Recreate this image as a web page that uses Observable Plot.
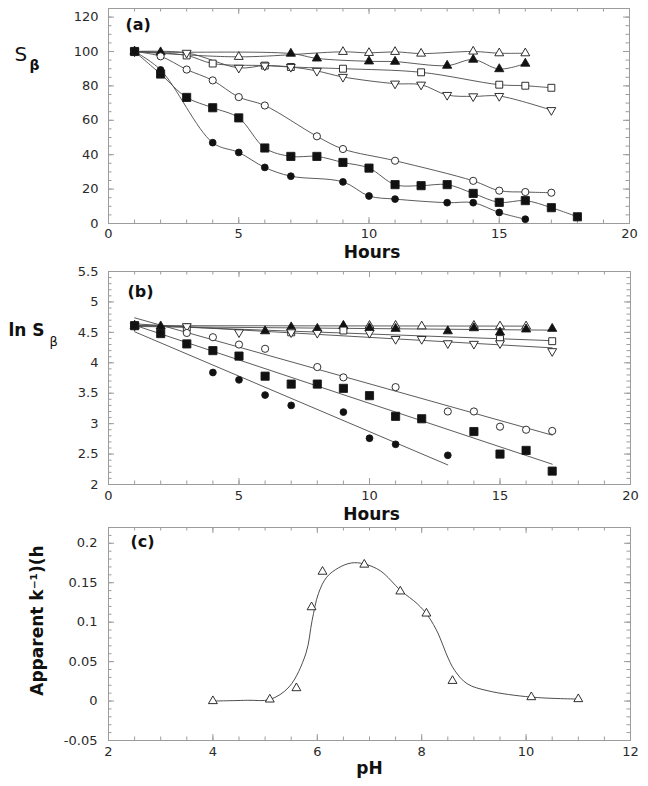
<!DOCTYPE html>
<html><head><meta charset="utf-8">
<script src="https://cdn.jsdelivr.net/npm/d3@7"></script>
<script src="https://cdn.jsdelivr.net/npm/@observablehq/plot@0.6"></script>
<style>
html,body{margin:0;padding:0;background:#fff;overflow:hidden}
#chart{width:648px;height:786px}
#chart svg{display:block}
</style>
</head><body><div id="chart"></div>
<script>
// ---------- Panel (a): S_beta vs Hours ----------
const aOpenUp      = [[1,100],[5,96.9],[9,99.8],[10,99.2],[11,99.8],[12,98.8],[14,100],[15,99],[16,99]];
const aFilledUp    = [[1,100],[2,99.6],[7,98.8],[8,96],[10,94.3],[11,94.1],[13,91.8],[14,95.3],[15,89.8],[16,93]];
const aOpenSquare  = [[1,100],[3,97.7],[4,93],[6,91.8],[7,91],[9,90],[12,87.9],[15,80.7],[16,80.1],[17,78.9]];
const aOpenDown    = [[1,100],[3,99.2],[5,90.5],[6,91.8],[7,91],[8,88.7],[9,85.2],[11,81.3],[12,80.7],[13,74.7],[14,73.9],[15,74.1],[17,65.9]];
const aOpenCircle  = [[1,100],[2,97.2],[3,89.5],[4,83.2],[5,73.5],[6,68.6],[8,50.7],[9,43.3],[11,36.5],[14,24.8],[15,19.1],[16,18.3],[17,17.9]];
const aFilledSquare= [[1,100],[2,86.9],[3,73.3],[4,67.3],[5,61.4],[6,43.9],[7,39],[8,39],[9,35.5],[10,32.2],[11,22.6],[12,22],[13,22.6],[14,17.5],[15,12.3],[16,13.3],[17,9.2],[18,3.9]];
const aFilledCircle= [[1,100],[2,89.3],[4,47],[5,41.3],[6,32.6],[7,27.5],[9,24.2],[10,16],[11,14.2],[13,12.1],[14,12.1],[15,6.4],[16,2.5]];
const aXTicks = [0,5,10,15,20];
const aYTicks = [0,20,40,60,80,100,120];

// ---------- Panel (b): ln S_beta vs Hours ----------
const bOpenUp      = [[1,4.61],[9,4.6],[10,4.61],[11,4.61],[12,4.6],[14,4.61],[15,4.6],[16,4.6]];
const bFilledUp    = [[1,4.61],[2,4.6],[6,4.52],[7,4.585],[8,4.56],[9,4.61],[10,4.57],[11,4.56],[13,4.52],[14,4.57],[15,4.5],[16,4.55],[17,4.56]];
const bOpenSquare  = [[1,4.61],[3,4.58],[7,4.5],[9,4.53],[15,4.39],[17,4.355]];
const bOpenDown    = [[1,4.61],[3,4.6],[5,4.5],[7,4.5],[8,4.49],[10,4.49],[11,4.39],[12,4.39],[13,4.32],[14,4.31],[15,4.32],[17,4.19]];
const bOpenCircle  = [[1,4.61],[3,4.49],[4,4.42],[5,4.3],[6,4.23],[8,3.93],[9,3.76],[11,3.6],[13,3.2],[14,3.2],[15,2.95],[16,2.9],[17,2.88]];
const bFilledSquare= [[1,4.61],[2,4.48],[3,4.31],[4,4.2],[5,4.11],[6,3.78],[7,3.65],[8,3.65],[9,3.58],[10,3.46],[11,3.12],[12,3.08],[14,2.87],[15,2.5],[16,2.56],[17,2.22]];
const bFilledCircle= [[1,4.61],[2,4.49],[4,3.84],[5,3.72],[6,3.47],[7,3.3],[9,3.19],[10,2.76],[11,2.66],[13,2.48]];
const bXTicks = [0,5,10,15,20];
const bYTicks = [2,2.5,3,3.5,4,4.5,5,5.5];

// ---------- Panel (c): apparent k vs pH ----------
const cPH = [4.0,5.09,5.6,5.89,6.1,6.9,7.59,8.09,8.59,10.1,11.0];
const cK  = [0,0.002,0.0164,0.119,0.164,0.173,0.139,0.111,0.0256,0.005,0.0025];
const cFitPH = [4.0,4.67,5.09,5.46,5.78,5.9,6.02,6.18,6.41,6.65,6.89,7.21,7.6,7.92,8.12,8.32,8.47,8.63,8.87,9.27,10.1,11.0];
const cFitK  = [0,0.001,0.002,0.018,0.06,0.102,0.136,0.157,0.169,0.175,0.174,0.165,0.14,0.123,0.108,0.085,0.06,0.039,0.022,0.013,0.005,0.0025];
const cXTicks = [2,4,6,8,10,12];
const cYTicks = [-0.05,0,0.05,0.1,0.15,0.2];

const seriesA = {openUp:aOpenUp, filledUp:aFilledUp, openSquare:aOpenSquare, openDown:aOpenDown, openCircle:aOpenCircle, filledSquare:aFilledSquare, filledCircle:aFilledCircle};
const seriesB = {openUp:bOpenUp, filledUp:bFilledUp, openSquare:bOpenSquare, openDown:bOpenDown, openCircle:bOpenCircle, filledSquare:bFilledSquare, filledCircle:bFilledCircle};

const markerStyle = {
  openUp:      {symbol:"triangle", fill:"white", r:3.3, rotate:0},
  filledUp:    {symbol:"triangle", fill:"#111",  r:3.4, rotate:0},
  openSquare:  {symbol:"square",   fill:"white", r:3.9, rotate:0},
  openDown:    {symbol:"triangle", fill:"white", r:3.3, rotate:180},
  openCircle:  {symbol:"circle",   fill:"white", r:3.6, rotate:0},
  filledSquare:{symbol:"square",   fill:"#111",  r:4.6, rotate:0},
  filledCircle:{symbol:"circle",   fill:"#111",  r:3.4, rotate:0}
};

function rowsOf(series){
  return Object.entries(series).flatMap(([s, arr]) => arr.map(([x,y]) => ({s, x, y})));
}
function dotMarks(series){
  return Object.entries(series).map(([s, arr]) => {
    const st = markerStyle[s];
    return Plot.dot(arr, {x: d => d[0], y: d => d[1], symbol: st.symbol, r: st.r, rotate: st.rotate,
      fill: st.fill, stroke: "#1a1a1a", strokeWidth: 0.9});
  });
}
const FR = "#9c9c9c";
function frameTicks(xMajor, xMinor, yMajor, yMinor, innerW, innerH){
  const out = [];
  [[xMajor,6],[xMinor,3.5]].forEach(([xs,len]) => {
    out.push(Plot.tickX(xs, {x: d => d, insetTop: innerH - len, stroke: FR, strokeWidth: 1}));
    out.push(Plot.tickX(xs, {x: d => d, insetBottom: innerH - len, stroke: FR, strokeWidth: 1}));
  });
  [[yMajor,6],[yMinor,3.5]].forEach(([ys,len]) => {
    out.push(Plot.tickY(ys, {y: d => d, insetRight: innerW - len, stroke: FR, strokeWidth: 1}));
    out.push(Plot.tickY(ys, {y: d => d, insetLeft: innerW - len, stroke: FR, strokeWidth: 1}));
  });
  return out;
}
const style = {fontFamily: "DejaVu Sans", fontSize: "13px", color: "#2a2a2a", background: "white", overflow: "visible"};
const W = 648, H = 262;
const txt = (s, o) => Plot.text([s], {text: d => d, fill: "#111", ...o});

// ---- Plot A ----
const mA = {top: 8, bottom: 39, left: 108, right: 19};
const plotA = Plot.plot({
  width: W, height: H, marginTop: mA.top, marginBottom: mA.bottom, marginLeft: mA.left, marginRight: mA.right,
  style,
  x: {domain: [0, 20]}, y: {domain: [0, 125]},
  marks: [
    ...frameTicks(aXTicks, d3.range(0, 21, 1), aYTicks, d3.range(0, 126, 5), W - mA.left - mA.right, H - mA.top - mA.bottom),
    Plot.frame({stroke: FR}),
    Plot.axisX(aXTicks, {anchor: "bottom", tickSize: 0, tickPadding: 5, label: null, tickFormat: d => String(d)}),
    Plot.axisY(aYTicks, {anchor: "left", tickSize: 0, tickPadding: 10, label: null, tickFormat: d => String(d)}),
    Plot.line(rowsOf(seriesA), {x: "x", y: "y", z: "s", curve: "catmull-rom", stroke: "#4a4a4a", strokeWidth: 0.9}),
    ...dotMarks(seriesA),
    txt("(a)", {frameAnchor: "top-left", dx: 17, dy: 16.5, textAnchor: "start", lineAnchor: "middle", fontSize: 16, fontWeight: "bold"}),
    txt("Hours", {frameAnchor: "bottom", dx: 3, dy: 29.5, lineAnchor: "middle", fontSize: 17, fontWeight: "bold"}),
    txt("S", {frameAnchor: "top-left", dx: -94, dy: 46.5, textAnchor: "start", lineAnchor: "middle", fontSize: 20}),
    txt("β", {frameAnchor: "top-left", dx: -79, dy: 57.5, textAnchor: "start", lineAnchor: "middle", fontSize: 14, fontWeight: "bold"})
  ]
});

// ---- Plot B ----
const mB = {top: 9, bottom: 40, left: 108, right: 18};
const rowsB = rowsOf(seriesB);
const plotB = Plot.plot({
  width: W, height: H, marginTop: mB.top, marginBottom: mB.bottom, marginLeft: mB.left, marginRight: mB.right,
  style,
  x: {domain: [0, 20]}, y: {domain: [2, 5.5]},
  marks: [
    ...frameTicks(bXTicks, d3.range(0, 21, 1), bYTicks, d3.range(20, 56, 1).map(d => d / 10), W - mB.left - mB.right, H - mB.top - mB.bottom),
    Plot.frame({stroke: FR}),
    Plot.axisX(bXTicks, {anchor: "bottom", tickSize: 0, tickPadding: 6, label: null, tickFormat: d => String(d)}),
    Plot.axisY(bYTicks, {anchor: "left", tickSize: 0, tickPadding: 10, label: null, tickFormat: d => String(d)}),
    Plot.linearRegressionY(rowsB, {x: "x", y: "y", z: "s", ci: 0, stroke: "#4a4a4a", strokeWidth: 0.9}),
    ...dotMarks(seriesB),
    txt("(b)", {frameAnchor: "top-left", dx: 19, dy: 20, textAnchor: "start", lineAnchor: "middle", fontSize: 16, fontWeight: "bold"}),
    txt("Hours", {frameAnchor: "bottom", dx: 2, dy: 30.5, lineAnchor: "middle", fontSize: 17, fontWeight: "bold"}),
    txt("ln S", {frameAnchor: "top-left", dx: -100, dy: 59, textAnchor: "start", lineAnchor: "middle", fontSize: 17, fontWeight: "bold"}),
    txt("β", {frameAnchor: "top-left", dx: -59, dy: 70, textAnchor: "start", lineAnchor: "middle", fontSize: 13})
  ]
});

// ---- Plot C ----
const mC = {top: 3, bottom: 46, left: 108, right: 18};
const plotC = Plot.plot({
  width: W, height: H, marginTop: mC.top, marginBottom: mC.bottom, marginLeft: mC.left, marginRight: mC.right,
  style,
  x: {domain: [2, 12]}, y: {domain: [-0.05, 0.22]},
  marks: [
    ...frameTicks(cXTicks, d3.range(4, 25, 1).map(d => d / 2), cYTicks, d3.range(-5, 23, 1).map(d => d / 100), W - mC.left - mC.right, H - mC.top - mC.bottom),
    Plot.frame({stroke: FR}),
    Plot.axisX(cXTicks, {anchor: "bottom", tickSize: 0, tickPadding: 6, label: null, tickFormat: d => String(d)}),
    Plot.axisY(cYTicks, {anchor: "left", tickSize: 0, tickPadding: 11, label: null, tickFormat: d => String(d)}),
    Plot.line(cFitPH.map((x, i) => ({x, y: cFitK[i]})), {x: "x", y: "y", curve: "catmull-rom", stroke: "#3a3a3a", strokeWidth: 0.9}),
    Plot.dot(cPH.map((x, i) => ({x, y: cK[i]})), {x: "x", y: "y", symbol: "triangle", r: 3.3, fill: "white", stroke: "#1a1a1a", strokeWidth: 0.9}),
    txt("(c)", {frameAnchor: "top-left", dx: 22, dy: 14.5, textAnchor: "start", lineAnchor: "middle", fontSize: 16, fontWeight: "bold"}),
    txt("pH", {frameAnchor: "bottom", dx: 0, dy: 28.5, lineAnchor: "middle", fontSize: 17, fontWeight: "bold"}),
    txt("Apparent k⁻¹)(h", {frameAnchor: "left", dx: -71, dy: -13.5, rotate: -90, textAnchor: "middle", lineAnchor: "middle", fontSize: 17, fontWeight: "bold"})
  ]
});

const chart = document.getElementById("chart");
chart.append(plotA, plotB, plotC);
</script></body></html>
